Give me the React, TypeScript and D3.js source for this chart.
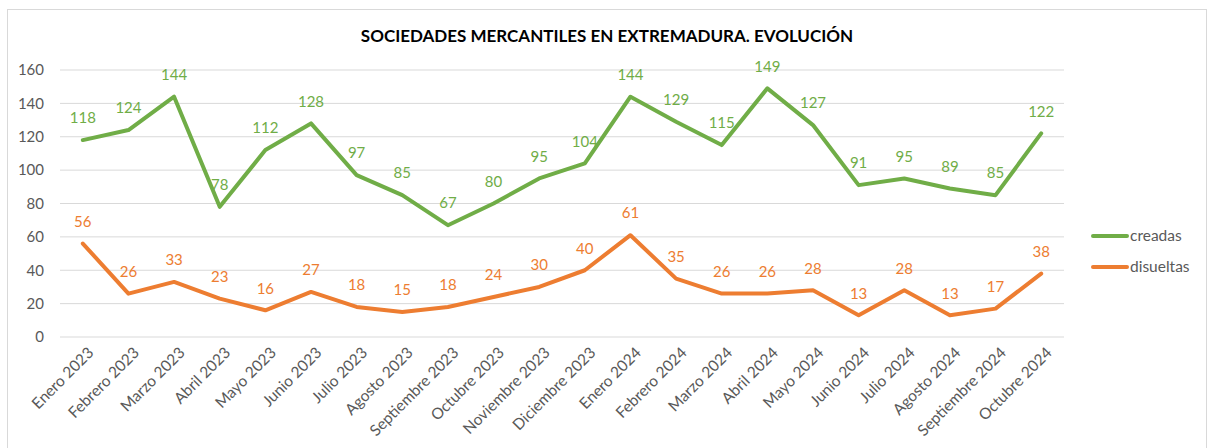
import React from "react";
import * as d3 from "d3";

const categories = ["Enero 2023","Febrero 2023","Marzo 2023","Abril 2023","Mayo 2023","Junio 2023","Julio 2023","Agosto 2023","Septiembre 2023","Octubre 2023","Noviembre 2023","Diciembre 2023","Enero 2024","Febrero 2024","Marzo 2024","Abril 2024","Mayo 2024","Junio 2024","Julio 2024","Agosto 2024","Septiembre 2024","Octubre 2024"];
const creadas = [118,124,144,78,112,128,97,85,67,80,95,104,144,129,115,149,127,91,95,89,85,122];
const disueltas = [56,26,33,23,16,27,18,15,18,24,30,40,61,35,26,26,28,13,28,13,17,38];
const yTicks = [0,20,40,60,80,100,120,140,160];
const title = "SOCIEDADES MERCANTILES EN EXTREMADURA. EVOLUCIÓN";

const W = 1208, H = 448;
const FONT = "Lato, Carlito, Calibri, sans-serif";

export default function App() {
  const x = d3.scaleBand<string>().domain(categories).range([60, 1064]);
  const y = d3.scaleLinear().domain([0, 160]).range([337, 70]);
  const cx = (c: string) => (x(c) as number) + x.bandwidth() / 2;
  const line = d3.line<number>().x((_, i) => cx(categories[i])).y((d) => y(d));
  const series = [
    { name: "creadas", values: creadas, color: "#70AD47" },
    { name: "disueltas", values: disueltas, color: "#ED7D31" },
  ];
  return (
    <svg width={W} height={H} style={{ position: "absolute", left: 0, top: 0 }} fontFamily={FONT}>
      <rect x={0} y={0} width={W} height={H} fill="#fff" />
      <rect x={7.5} y={9.5} width={1199} height={460} fill="#fff" stroke="#d9d9d9" strokeWidth={1} />
      <text x={607} y={42} textAnchor="middle" fontSize={17} fontWeight="bold" fill="#000">{title}</text>
      {yTicks.map((t) => (
        <g key={t}>
          <line x1={60} x2={1064} y1={y(t)} y2={y(t)} stroke="#d9d9d9" strokeWidth={1} />
          <text x={44} y={y(t)} dy="0.35em" textAnchor="end" fontSize={15} fill="#595959">{t}</text>
        </g>
      ))}
      {categories.map((c) => (
        <text key={c} transform={`translate(${cx(c) + 4},${346}) rotate(-45)`} textAnchor="end" dy="0.7em" fontSize={15.5} fill="#595959">{c}</text>
      ))}
      {series.map((s) => (
        <g key={s.name}>
          <path d={line(s.values) || ""} fill="none" stroke={s.color} strokeWidth={4} strokeLinejoin="round" strokeLinecap="round" />
          {s.values.map((v, i) => (
            <text key={i} x={cx(categories[i])} y={y(v) - 22} dy="0.35em" textAnchor="middle" fontSize={15} fill={s.color}>{v}</text>
          ))}
        </g>
      ))}
      {series.map((s, i) => (
        <g key={s.name} transform={`translate(0,${236 + i * 31})`}>
          <line x1={1093} x2={1127} y1={0} y2={0} stroke={s.color} strokeWidth={4} strokeLinecap="round" />
          <text x={1130} y={0} dy="0.35em" fontSize={15.5} fill="#595959">{s.name}</text>
        </g>
      ))}
    </svg>
  );
}
